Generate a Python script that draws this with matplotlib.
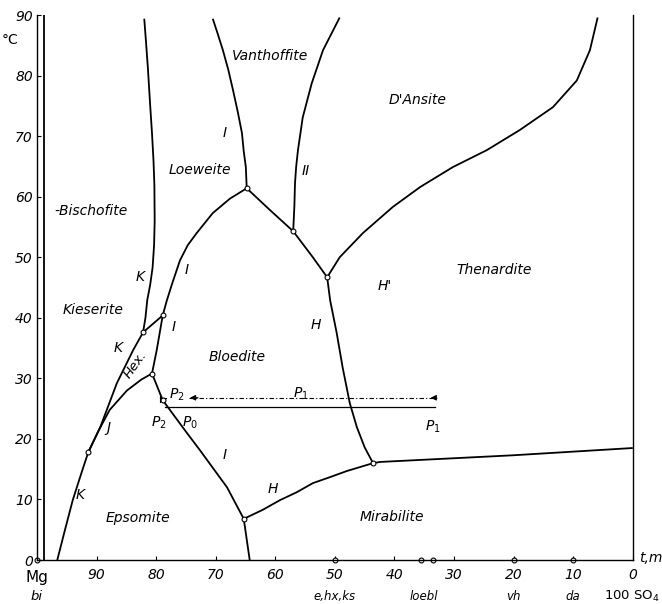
import numpy as np
import matplotlib.pyplot as plt

# phase boundaries as (x = mol % Mg, t in degC)
bisch_x = [98.8, 98.8]
bisch_t = [0, 90]

k_low_x = [96.6, 95.3, 94.0, 92.6, 91.4, 89.4, 86.6, 83.9, 82.2]
k_low_t = [0.0, 5.0, 9.9, 14.2, 17.8, 21.9, 29.2, 34.6, 37.6]

j_x = [91.4, 89.6, 87.8, 84.9, 82.5, 80.7]
j_t = [17.8, 21.5, 24.8, 28.0, 29.8, 30.8]

hex_top_x = [82.2, 78.9]
hex_top_t = [37.6, 40.4]

hex_bl_x = [78.9, 79.9, 80.7]
hex_bl_t = [40.4, 34.7, 30.8]

k_up_x = [82.2, 81.8, 81.5, 81.0, 80.6, 80.35, 80.25, 80.3, 80.45, 80.7, 81.0, 81.4, 81.7, 82.0]
k_up_t = [37.6, 40.0, 42.9, 45.5, 48.3, 52.0, 56.0, 62.0, 66.0, 70.5, 75.0, 81.4, 85.5, 89.4]

i_lb_x = [78.9, 78.2, 77.3, 76.0, 74.7, 73.2, 70.5, 67.6, 64.8]
i_lb_t = [40.4, 42.9, 45.7, 49.5, 52.0, 54.0, 57.3, 59.7, 61.4]

i_lv_x = [64.8, 64.95, 65.3, 65.6, 66.3, 67.1, 67.9, 68.8, 69.7, 70.5]
i_lv_t = [61.4, 64.9, 67.5, 70.5, 74.0, 77.6, 81.0, 84.2, 87.0, 89.4]

ii_x = [57.0, 56.8, 56.7, 56.5, 56.2, 55.4, 53.9, 52.0, 49.2]
ii_t = [54.3, 58.5, 62.2, 65.0, 67.7, 73.1, 78.7, 84.2, 89.6]

bl_top_x = [64.8, 60.9, 57.0, 53.7, 51.3]
bl_top_t = [61.4, 57.8, 54.3, 50.0, 46.7]

hp_x = [51.3, 49.2, 45.3, 40.3, 35.7, 30.2, 24.5, 19.0, 13.4, 9.4, 7.2, 5.9]
hp_t = [46.7, 50.0, 54.0, 58.3, 61.6, 64.9, 67.7, 71.0, 74.8, 79.2, 84.2, 89.6]

h_x = [51.3, 50.8, 49.7, 48.7, 47.5, 46.3, 45.0, 43.6]
h_t = [46.7, 42.9, 37.5, 31.8, 25.9, 21.9, 18.6, 16.0]

i_be_x = [80.7, 78.9, 77.7, 75.0, 72.7, 68.1, 65.3]
i_be_t = [30.8, 26.4, 24.8, 21.2, 18.2, 12.0, 6.8]

em_x = [65.3, 64.3]
em_t = [6.8, 0.0]

h_mb_x = [65.3, 62.1, 59.2, 56.4, 53.7, 50.8, 48.0, 45.3, 43.6]
h_mb_t = [6.8, 8.3, 9.9, 11.2, 12.7, 13.7, 14.7, 15.5, 16.0]

tm_x = [43.6, 42.4, 20.1, 0.0]
tm_t = [16.0, 16.2, 17.3, 18.5]

# crystallisation path P0 -> P1 and the return path P1 -> P2
path_x = [78.5, 33.2]
path_t = [25.2, 25.2]
dash_x = [74.5, 32.6]
dash_t = [26.8, 26.8]

nodes_x = [91.4, 82.2, 78.9, 80.7, 64.8, 57.0, 51.3, 43.6, 65.3, 78.9]
nodes_t = [17.8, 37.6, 40.4, 30.8, 61.4, 54.3, 46.7, 16.0, 6.8, 26.4]

base_x = [100, 50, 35.5, 33.5, 20, 10]

fields = [('Vanthoffite', 60.9, 83.2), ("D'Ansite", 36.1, 75.9), ('Loeweite', 72.7, 64.4),
          ('-Bischofite', 90.9, 57.6), ('Thenardite', 23.2, 47.9), ('Kieserite', 90.6, 41.3),
          ('Bloedite', 66.4, 33.5), ('Epsomite', 83.1, 6.9), ('Mirabilite', 40.4, 7.1)]
curve_tags = [('I', 68.5, 70.5), ('II', 54.9, 64.3), ("H'", 41.6, 45.2), ('K', 82.7, 46.8),
              ('I', 74.8, 47.9), ('I', 77.0, 38.5), ('K', 86.4, 35.0), ('H', 53.2, 38.8),
              ('J', 88.0, 21.8), ('I', 68.5, 17.3), ('H', 60.4, 11.8), ('K', 92.8, 10.7)]
tick_vals = [90, 80, 70, 60, 50, 40, 30, 20, 10, 0]
bottom_names = [('e,hx,ks', 50), ('loebl', 35), ('vh', 20), ('da', 10)]

fig = plt.figure(figsize=(6.62, 6.04), dpi=100)
ax = fig.add_axes([0.0559, 0.0728, 0.9, 0.9022])
ax.set_xlim(100, 0)
ax.set_ylim(0, 90)

lw = 1.3
curves = [(bisch_x, bisch_t), (k_low_x, k_low_t), (j_x, j_t), (hex_top_x, hex_top_t),
          (hex_bl_x, hex_bl_t), (k_up_x, k_up_t), (i_lb_x, i_lb_t), (i_lv_x, i_lv_t),
          (ii_x, ii_t), (bl_top_x, bl_top_t), (hp_x, hp_t), (h_x, h_t), (i_be_x, i_be_t),
          (em_x, em_t), (h_mb_x, h_mb_t), (tm_x, tm_t)]
for cx, ct in curves:
    ax.plot(cx, ct, color='k', lw=lw, solid_capstyle='butt', solid_joinstyle='round')

ax.plot(path_x, path_t, color='k', lw=0.9)
ax.plot(dash_x, dash_t, color='k', lw=0.8, ls=(0, (4, 2, 1, 2)))
ax.annotate('', xy=(74.8, 26.8), xytext=(72.5, 26.8),
            arrowprops=dict(arrowstyle='-|>', color='k', lw=0.8, mutation_scale=8))
ax.annotate('', xy=(34.4, 26.8), xytext=(32.6, 26.8),
            arrowprops=dict(arrowstyle='-|>', color='k', lw=0.8, mutation_scale=8))
ax.plot([79.4, 79.4], [26.1, 27.5], color='k', lw=0.8)
ax.plot([79.4, 78.4], [26.8, 26.8], color='k', lw=0.8)

ax.plot(nodes_x, nodes_t, 'o', ms=3.5, mfc='white', mec='k', mew=0.8, ls='none')
ax.plot(base_x, [0] * len(base_x), 'o', ms=3.5, mfc='white', mec='k', mew=0.8,
        ls='none', clip_on=False)

for name, x, t in fields:
    ax.text(x, t, name, style='italic', fontsize=10, ha='center', va='center')
for name, x, t in curve_tags:
    ax.text(x, t, name, style='italic', fontsize=10, ha='center', va='center')
ax.text(83.4, 32.2, 'Hex.', style='italic', fontsize=9.5, ha='center', va='center', rotation=55)

ax.text(76.6, 27.3, r'$P_2$', fontsize=10, ha='center', va='center')
ax.text(55.8, 27.4, r'$P_1$', fontsize=10, ha='center', va='center')
ax.text(79.6, 22.6, r'$P_2$', fontsize=10, ha='center', va='center')
ax.text(74.4, 22.6, r'$P_0$', fontsize=10, ha='center', va='center')
ax.text(33.5, 22.0, r'$P_1$', fontsize=10, ha='center', va='center')

ax.spines['top'].set_visible(False)
for sp in ['left', 'right', 'bottom']:
    ax.spines[sp].set_linewidth(1.0)

ax.set_xticks(tick_vals)
ax.set_xticklabels([str(v) for v in tick_vals], style='italic', fontsize=10)
ax.set_yticks(np.arange(0, 91, 10))
ax.set_yticklabels([str(v) for v in range(0, 91, 10)], style='italic', fontsize=10)
ax.tick_params(direction='in', length=3, width=0.8, pad=3)
ax.tick_params(axis='x', pad=6)

ax.text(-0.06, 0.955, '°C', transform=ax.transAxes, fontsize=10, ha='left', va='center')
ax.text(100, -2.9, 'Mg', fontsize=11, ha='center', va='center')
ax.text(100, -6.0, 'bi', style='italic', fontsize=9.5, ha='center', va='center')
for name, v in bottom_names:
    ax.text(v, -6.0, name, style='italic', fontsize=8.5, ha='center', va='center')
ax.text(0.2, -6.0, r'$\mathit{100}$ SO$_4$', fontsize=9.5, ha='center', va='center')
ax.text(-1.0, 0.3, 't,m', style='italic', fontsize=10, ha='left', va='center')

fig.savefig('out.png', dpi=100)
